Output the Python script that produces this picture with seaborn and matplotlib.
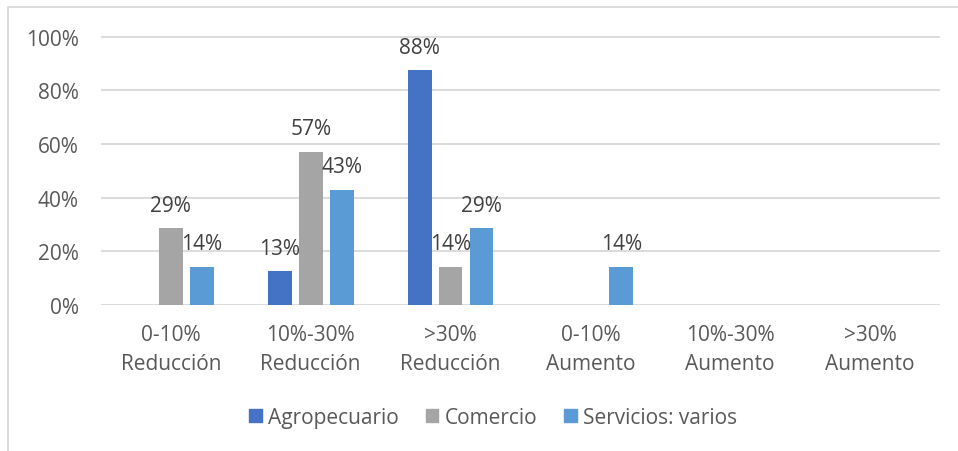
import numpy as np
import pandas as pd
import seaborn as sns
import matplotlib.pyplot as plt
from matplotlib.patches import Rectangle

# Data (share of respondents)
categorias = ["0-10%\nReducción", "10%-30%\nReducción", ">30%\nReducción",
              "0-10%\nAumento", "10%-30%\nAumento", ">30%\nAumento"]
agropecuario = [0.0, 0.125, 0.875, 0.0, 0.0, 0.0]
comercio = [0.286, 0.571, 0.143, 0.0, 0.0, 0.0]
servicios = [0.143, 0.429, 0.286, 0.143, 0.0, 0.0]
sectores = ["Agropecuario", "Comercio", "Servicios: varios"]
colores = ["#4472C4", "#A5A5A5", "#5B9BD5"]

df = pd.DataFrame({
    "categoria": categorias * 3,
    "sector": np.repeat(sectores, len(categorias)),
    "valor": agropecuario + comercio + servicios,
})

sns.set_style("white")
plt.rcParams["font.family"] = ["Open Sans", "DejaVu Sans"]

fig = plt.figure(figsize=(9.58, 4.52), dpi=100)
ax = fig.add_axes([0.1054, 0.323, 0.8758, 0.595])

sns.barplot(data=df, x="categoria", y="valor", hue="sector", palette=colores,
            saturation=1, width=0.664, gap=0.23, linewidth=0, ax=ax, legend=True)

# data labels only for non-zero bars
for cont, vals in zip(ax.containers, [agropecuario, comercio, servicios]):
    labs = [f"{int(v * 100 + 0.5)}%" if v > 0 else "" for v in vals]
    ax.bar_label(cont, labels=labs, padding=9, fontsize=15, color="#404040")

ax.set_ylim(0, 1.003)
ax.set_yticks(np.arange(0, 1.01, 0.2))
ax.set_yticklabels([f"{int(t * 100)}%" for t in np.arange(0, 1.01, 0.2)])
ax.set_xlabel("")
ax.set_ylabel("")
ax.grid(axis="y", color="#D9D9D9", linewidth=1.3)
ax.set_axisbelow(True)
for s in ax.spines.values():
    s.set_visible(False)
ax.tick_params(axis="both", length=0, labelsize=15, labelcolor="#595959", pad=16)
ax.tick_params(axis="x", pad=14)
for t in ax.get_xticklabels():
    t.set_linespacing(1.5)

ax.get_legend().remove()
handles = [Rectangle((0, 0), 1, 1, color=c) for c in colores]
fig.legend(handles, sectores, loc="center", bbox_to_anchor=(0.515, 0.075), ncol=3,
           frameon=False, fontsize=15, labelcolor="#595959", handlelength=0.6,
           handleheight=0.6, handletextpad=0.3, columnspacing=1.3)

# chart frame (cut off on right and bottom)
fig.patches.append(Rectangle((8 / 958, -0.1), 1.2, 1.1 - 8 / 452,
                             transform=fig.transFigure, fill=False,
                             edgecolor="#D9D9D9", linewidth=1.3))

fig.savefig("out.png", dpi=100)
